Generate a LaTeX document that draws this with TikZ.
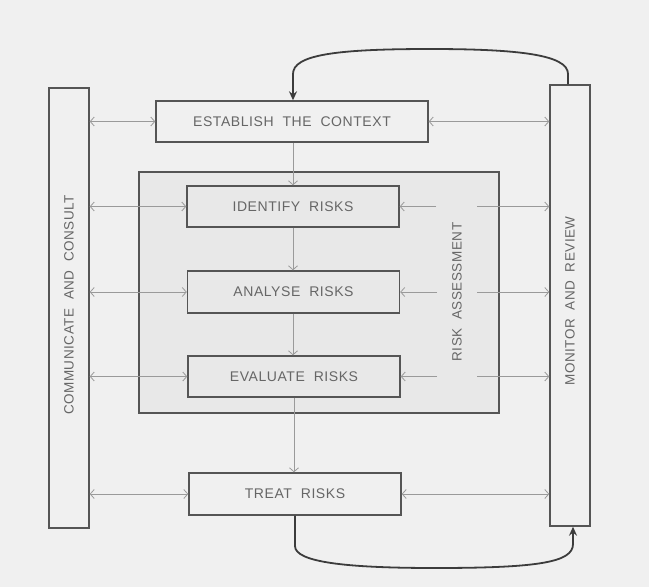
\documentclass[tikz,border=0pt]{standalone}
\usepackage{fontspec}
\setmainfont{Liberation Sans}[LetterSpace=4,WordSpace=2]
\usetikzlibrary{arrows.meta}
\definecolor{bgc}{HTML}{F0F0F0}
\definecolor{rafill}{HTML}{E8E8E8}
\definecolor{boxline}{HTML}{555555}
\definecolor{arrc}{HTML}{9A9A9A}
\definecolor{txtc}{HTML}{666666}
\definecolor{loopc}{HTML}{3C3C3C}
\tikzset{
  stagebox/.style={draw=boxline, line width=1.4pt, fill=bgc, minimum width=212pt, minimum height=41pt,
    inner sep=0pt, text=txtc, font=\fontsize{14}{16}\selectfont},
  barbox/.style={draw=boxline, line width=1.4pt, fill=bgc, minimum width=40pt, minimum height=440pt,
    inner sep=0pt},
  bartext/.style={rotate=90, text=txtc, font=\fontsize{13.5}{15}\selectfont, inner sep=0pt},
  thinarr/.style={draw=arrc, line width=0.8pt, -{Straight Barb[length=4pt,width=9pt]}},
  dblarr/.style={draw=arrc, line width=0.8pt, {Straight Barb[length=4pt,width=9pt]}-{Straight Barb[length=4pt,width=9pt]}},
  looparr/.style={draw=loopc, line width=1.8pt, -{Stealth[length=9pt,width=8pt,inset=3pt]}}
}
\begin{document}
\begin{tikzpicture}[x=1pt,y=-1pt]
\useasboundingbox (0,0) rectangle (649,587);
\fill[bgc] (0,0) rectangle (649,587);
% risk assessment box
\node[draw=boxline, line width=1.4pt, fill=rafill, minimum width=360pt, minimum height=241pt, inner sep=0pt] (ra) at (319,292.5) {};
\node[bartext] (ralabel) at (457,292) {RISK ASSESSMENT};
% side bars
\node[barbox] (cc) at (69,308) {};
\node[bartext] (cclabel) at (69,305) {COMMUNICATE AND CONSULT};
\node[barbox, minimum height=441pt] (mr) at (570,305.5) {};
\node[bartext] (mrlabel) at (570,301) {MONITOR AND REVIEW};
% stages
\node[stagebox, minimum width=272pt] (ec) at (292,121.5) {ESTABLISH THE CONTEXT};
\node[stagebox, fill=rafill] (ir) at (293,206.5) {IDENTIFY RISKS};
\node[stagebox, fill=rafill, minimum height=42pt] (an) at (293.5,292) {ANALYSE RISKS};
\node[stagebox, fill=rafill] (ev) at (294,376.5) {EVALUATE RISKS};
\node[stagebox, minimum height=42pt] (tr) at (295,494) {TREAT RISKS};
% vertical flow
\draw[thinarr] (ec.south -| 293,0) -- (ir.north);
\draw[thinarr] (ir.south) -- (an.north -| ir.south);
\draw[thinarr] (an.south -| ir.south) -- (ev.north -| ir.south);
\draw[thinarr] (ev.south) -- (tr.north -| ev.south);
% left communication arrows
\draw[dblarr] (cc.east |- ec.west) -- (ec.west);
\draw[dblarr] (cc.east |- ir.west) -- (ir.west);
\draw[dblarr] (cc.east |- an.west) -- (an.west);
\draw[dblarr] (cc.east |- ev.west) -- (ev.west);
\draw[dblarr] (cc.east |- tr.west) -- (tr.west);
% right monitoring arrows
\draw[dblarr] (ec.east) -- (mr.west |- ec.east);
\draw[dblarr] (tr.east) -- (mr.west |- tr.east);
\coordinate (ia) at (436,206.5);
\coordinate (ib) at (477,206.5);
\coordinate (aa) at (437,292);
\coordinate (ab) at (477,292);
\coordinate (ea) at (437,376.5);
\coordinate (eb) at (477,376.5);
\draw[thinarr] (ia) -- (ir.east);
\draw[thinarr] (ib) -- (mr.west |- ib);
\draw[thinarr] (aa) -- (an.east);
\draw[thinarr] (ab) -- (mr.west |- ab);
\draw[thinarr] (ea) -- (ev.east);
\draw[thinarr] (eb) -- (mr.west |- eb);
% feedback loops
\draw[looparr] (mr.north -| 568,0) -- (568,74) .. controls (568,55) and (520,49) .. (430,49)
  .. controls (335,49) and (293,55) .. (293,74) -- (ec.north -| 293,0);
\draw[looparr] (tr.south) -- (295,546) .. controls (295,562) and (345,568) .. (435,568)
  .. controls (540,568) and (573,562) .. (573,544) -- (mr.south -| 573,0);
\end{tikzpicture}
\end{document}
